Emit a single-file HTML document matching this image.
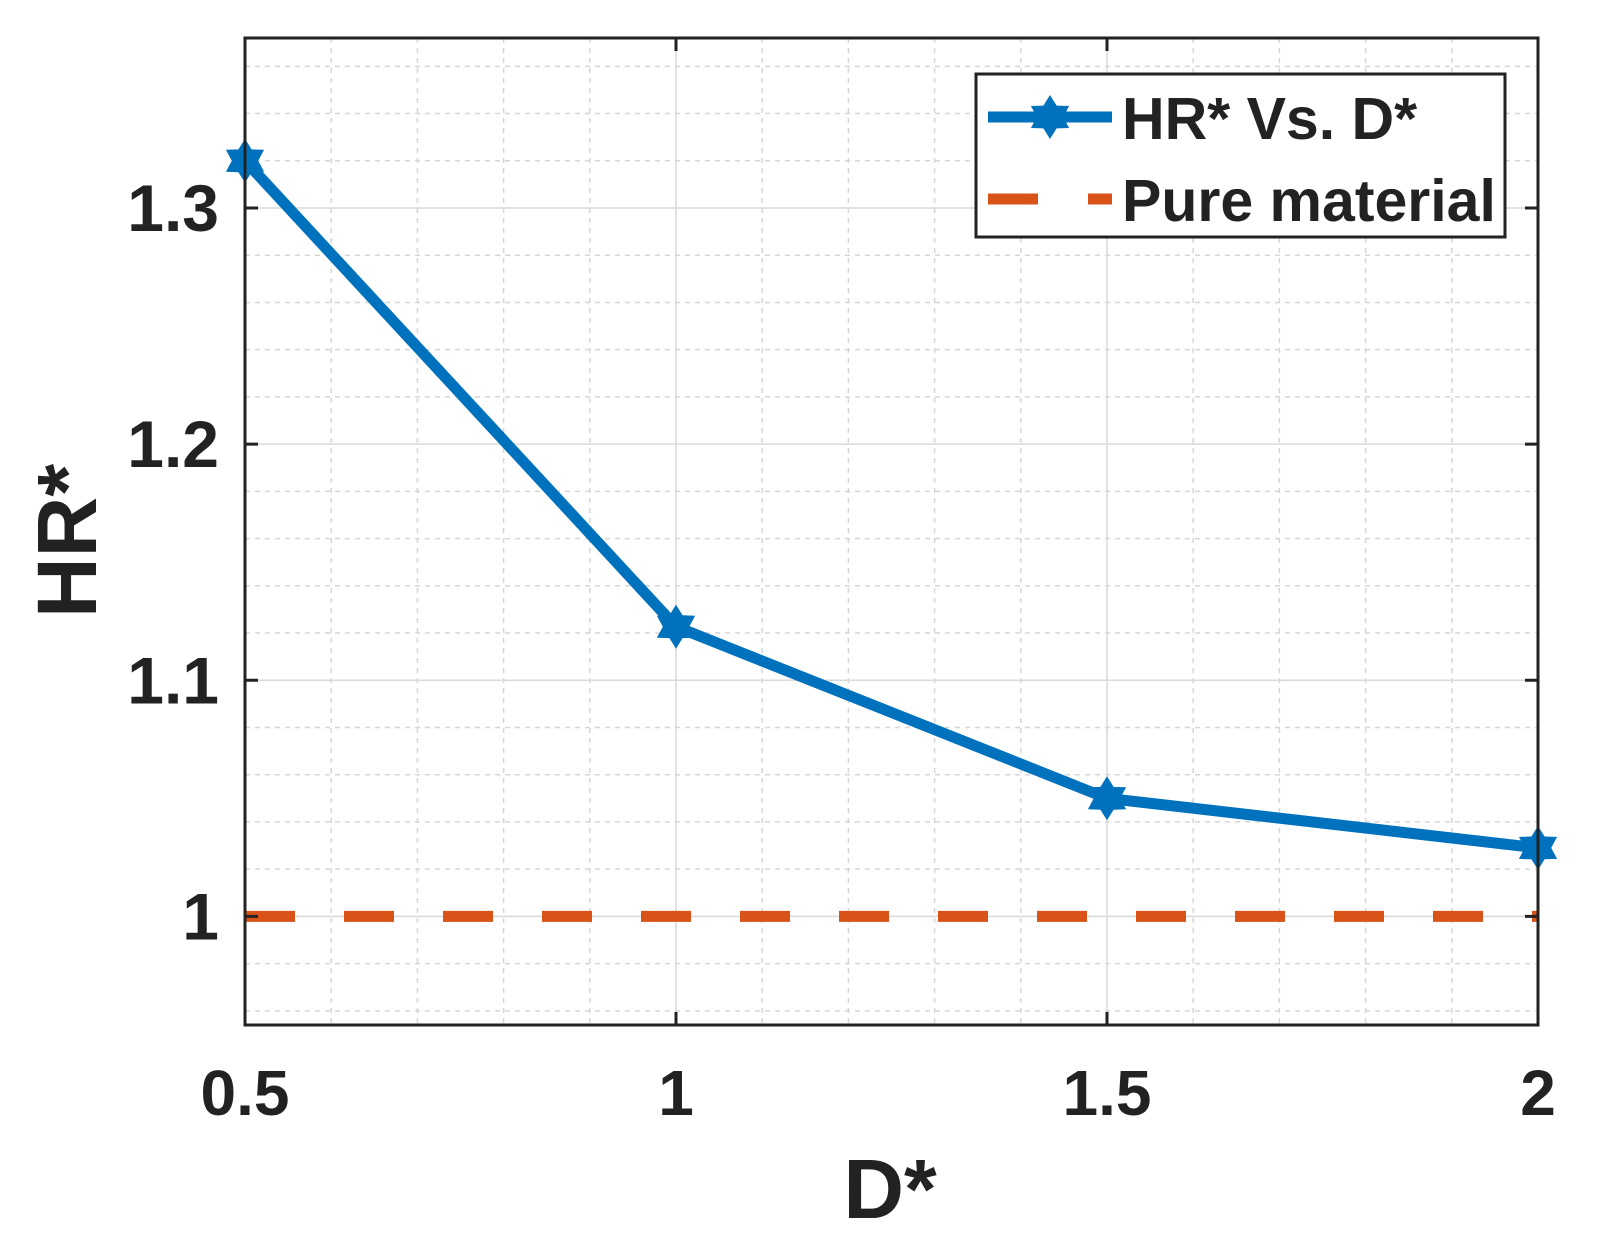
<!DOCTYPE html>
<html><head><meta charset="utf-8"><style>
html,body{margin:0;padding:0;background:#fff}
svg text{font-family:"Liberation Sans",Arial,sans-serif;font-weight:bold;fill:#222}
</style></head><body>
<svg id="chart" width="1598" height="1248" xmlns="http://www.w3.org/2000/svg">
<g id="grid"></g>
<g id="series"></g>
<g id="axes"></g>
</svg>
<script>
const xValues=[0.5,1,1.5,2];
const hrValues=[1.32,1.1227,1.050,1.029];
const pureValue=1.0;
const xTicks=[0.5,1,1.5,2];
const xTickLabels=['0.5','1','1.5','2'];
const yTicks=[1,1.1,1.2,1.3];
const yTickLabels=['1','1.1','1.2','1.3'];
const L=245,R=1538,T=38,B=1025;
const xMin=0.5,xMax=2,yMin=0.954,yMax=1.372;
const sx=v=>L+(v-xMin)/(xMax-xMin)*(R-L);
const sy=v=>B-(v-yMin)/(yMax-yMin)*(B-T);
const NS='http://www.w3.org/2000/svg';
function mk(tag,parent,attrs){const e=document.createElementNS(NS,tag);for(const k in attrs)e.setAttribute(k,attrs[k]);parent.appendChild(e);return e;}
const grid=document.getElementById('grid'),series=document.getElementById('series'),axes=document.getElementById('axes');
for(let i=1;i<15;i++){const v=xMin+i*0.1;if(i%5===0)continue;const x=sx(v);
const l=mk('line',grid,{x1:x,x2:x,y1:T,y2:B,stroke:'#d6d6d6','stroke-width':1.5,'stroke-dasharray':'5 5'});

}
for(let v=0.96;v<1.371;v+=0.02){const r=Math.round(v*100)/100;if(Math.abs(r*10-Math.round(r*10))<1e-6)continue;const y=sy(r);
const l=mk('line',grid,{x1:L,x2:R,y1:y,y2:y,stroke:'#d6d6d6','stroke-width':1.5,'stroke-dasharray':'5 5'});

}
xTicks.forEach(v=>{const x=sx(v);
const l=mk('line',grid,{x1:x,x2:x,y1:T,y2:B,stroke:'#d9d9d9','stroke-width':1.5});

});
yTicks.forEach(v=>{const y=sy(v);
const l=mk('line',grid,{x1:L,x2:R,y1:y,y2:y,stroke:'#d9d9d9','stroke-width':1.5});

});
const pl=mk('line',series,{x1:L,x2:R,y1:sy(pureValue),y2:sy(pureValue),stroke:'#d95319','stroke-width':11,'stroke-dasharray':'50 49'});


const pts=xValues.map((v,i)=>sx(v)+','+sy(hrValues[i])).join(' ');
const hl=mk('polyline',series,{points:pts,fill:'none',stroke:'#0072bd','stroke-width':11,'stroke-linejoin':'round'});


function star(cx,cy,r){let p=[];for(let i=0;i<12;i++){const a=-Math.PI/2+i*Math.PI/6;const rr=i%2?r*0.6:r;p.push((cx+rr*Math.cos(a)).toFixed(1)+','+(cy+rr*Math.sin(a)).toFixed(1));}return p.join(' ');}
xValues.forEach((v,i)=>{const s=mk('polygon',series,{points:star(sx(v),sy(hrValues[i]),22),fill:'#0072bd'});

});
const box=mk('rect',axes,{x:L,y:T,width:R-L,height:B-T,fill:'none',stroke:'#222','stroke-width':3});


xTicks.forEach((v,i)=>{const x=sx(v);
mk('line',axes,{x1:x,x2:x,y1:B,y2:B-13,stroke:'#222','stroke-width':3});
mk('line',axes,{x1:x,x2:x,y1:T,y2:T+13,stroke:'#222','stroke-width':3});
const t=mk('text',axes,{x:x,y:1115,'text-anchor':'middle','font-size':64});t.textContent=xTickLabels[i];

});
yTicks.forEach((v,i)=>{const y=sy(v);
mk('line',axes,{x1:L,x2:L+13,y1:y,y2:y,stroke:'#222','stroke-width':3});
mk('line',axes,{x1:R,x2:R-13,y1:y,y2:y,stroke:'#222','stroke-width':3});
const t=mk('text',axes,{x:219,y:y+23,'text-anchor':'end','font-size':66});t.textContent=yTickLabels[i];

});
const xt=mk('text',axes,{x:890,y:1218,'text-anchor':'middle','font-size':84});xt.textContent='D*';


const yt=mk('text',axes,{x:0,y:0,'text-anchor':'middle','font-size':84,transform:'translate(96,541) rotate(-90)'});yt.textContent='HR*';


const lg=mk('g',axes,{});


mk('rect',lg,{x:976,y:74,width:529,height:163,fill:'#fff',stroke:'#222','stroke-width':3});
mk('line',lg,{x1:988,x2:1112,y1:117,y2:117,stroke:'#0072bd','stroke-width':11});
mk('polygon',lg,{points:star(1050,117,22),fill:'#0072bd'});
mk('line',lg,{x1:988,x2:1112,y1:199,y2:199,stroke:'#d95319','stroke-width':11,'stroke-dasharray':'50 50'});
const e1=mk('text',lg,{x:1122,y:139,'font-size':59});e1.textContent='HR* Vs. D*';


const e2=mk('text',lg,{x:1122,y:221,'font-size':59});e2.textContent='Pure material';


</script>
</body></html>
